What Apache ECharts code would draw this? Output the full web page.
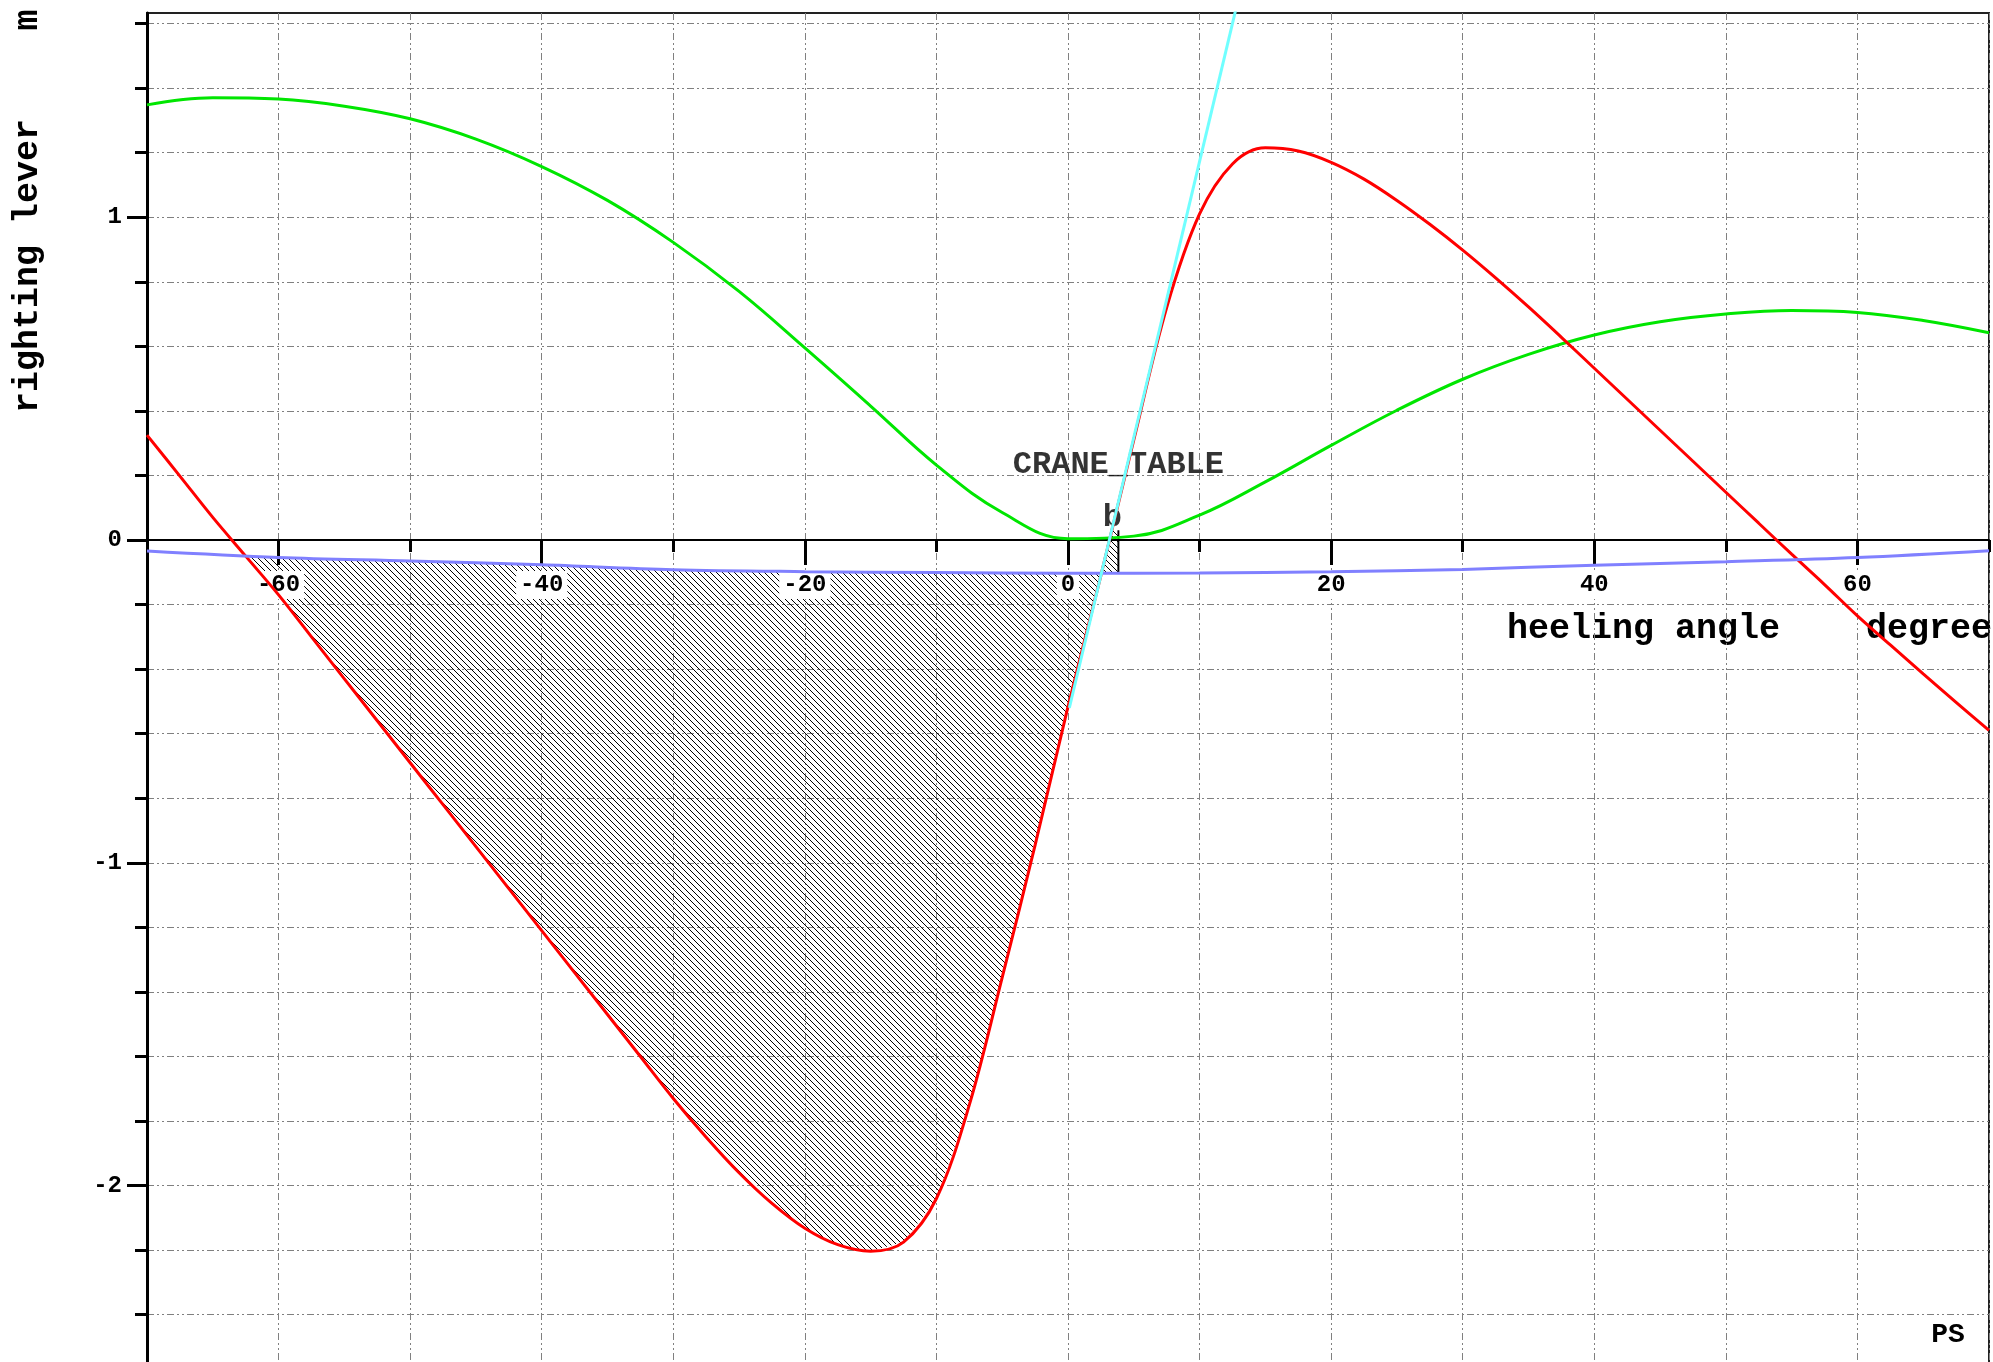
<!DOCTYPE html>
<html>
<head>
<meta charset="utf-8">
<title>righting lever</title>
<script src="https://cdn.jsdelivr.net/npm/echarts@6/dist/echarts.min.js"></script>
<style>
  html, body { margin: 0; padding: 0; background: #fff; }
  #chart { width: 1993px; height: 1362px; }
</style>
</head>
<body>
<div id="chart"></div>
<script>
// heeling angle in degree, righting lever in m
var greenAngles = [-70, -65, -60, -55, -50, -45, -40, -35, -30, -25, -20, -15, -10, -5, 0, 5, 10, 15, 20, 25, 30, 35, 40, 45, 50, 55, 60, 65, 70];
var greenValues = [1.348, 1.37, 1.366, 1.344, 1.305, 1.242, 1.157, 1.052, 0.922, 0.77, 0.595, 0.415, 0.232, 0.085, 0.004, 0.012, 0.077, 0.18, 0.293, 0.402, 0.498, 0.575, 0.635, 0.676, 0.70, 0.711, 0.705, 0.68, 0.642];

var redAngles = [-70, -67.5, -65, -62.5, -60, -57.5, -55, -52.5, -50, -47.5, -45, -42.5, -40, -37.5, -35, -32.5, -30, -27.5, -25, -22.5, -20, -17.5, -15, -12.5, -10, -7.5, -5, -2.5, 0, 2.5, 5, 7.5, 10, 12.5, 15, 17.5, 20, 22.5, 25, 27.5, 30, 32.5, 35, 37.5, 40, 42.5, 45, 47.5, 50, 52.5, 55, 57.5, 60, 62.5, 65, 67.5, 70];
var redValues = [0.325, 0.198, 0.07, -0.05, -0.17, -0.30, -0.43, -0.56, -0.69, -0.82, -0.95, -1.08, -1.21, -1.34, -1.47, -1.60, -1.73, -1.85, -1.96, -2.055, -2.132, -2.183, -2.203, -2.175, -2.04, -1.75, -1.355, -0.945, -0.516, -0.11, 0.31, 0.72, 1.01, 1.165, 1.215, 1.205, 1.17, 1.118, 1.052, 0.978, 0.898, 0.812, 0.722, 0.628, 0.532, 0.436, 0.34, 0.244, 0.148, 0.052, -0.044, -0.138, -0.235, -0.325, -0.415, -0.503, -0.59];

var blueAngles = [-70, -60, -50, -40, -30, -20, -10, 0, 10, 20, 30, 40, 50, 60, 70];
var blueValues = [-0.034, -0.054, -0.065, -0.077, -0.092, -0.098, -0.101, -0.103, -0.102, -0.098, -0.091, -0.078, -0.067, -0.054, -0.033];

var cyanAngles = [0.1, 13.5];
var cyanValues = [-0.52, 1.771];

// "b" mark of the crane table case
var bAngle = 3.83;
var bTop = 0.03;

var annotationAngles = [3.83, 3.38];
var annotationValues = [0.232, 0.068];
var annotationTexts = ['CRANE_TABLE', 'b'];

var xLabels = [-60, -40, -20, 0, 20, 40, 60];
var xMajorTicks = [-60, -40, -20, 0, 20, 40, 60];
var yLabels = [-2, -1, 0, 1];
var yMinorTicks = [-2.4, -2.2, -2, -1.8, -1.6, -1.4, -1.2, -1, -0.8, -0.6, -0.4, -0.2, 0, 0.2, 0.4, 0.6, 0.8, 1, 1.2, 1.4, 1.6];

var FONT = '"Liberation Mono", "Courier New", monospace';

function pairs(xs, ys) {
  return xs.map(function (x, i) { return [x, ys[i]]; });
}

function valueAt(xs, ys, x) {
  for (var i = 1; i < xs.length; i++) {
    if (x <= xs[i]) {
      var t = (x - xs[i - 1]) / (xs[i] - xs[i - 1]);
      return ys[i - 1] + t * (ys[i] - ys[i - 1]);
    }
  }
  return ys[ys.length - 1];
}

// where curve a meets curve b between lo and hi
function crossing(xa, ya, xb, yb, lo, hi) {
  var fLo = valueAt(xa, ya, lo) - valueAt(xb, yb, lo);
  for (var k = 0; k < 50; k++) {
    var mid = (lo + hi) / 2;
    var f = valueAt(xa, ya, mid) - valueAt(xb, yb, mid);
    if ((f > 0) === (fLo > 0)) { lo = mid; fLo = f; } else { hi = mid; }
  }
  return (lo + hi) / 2;
}

// hatch pattern, crisp 1px diagonal
var TILE = 6;
var tile = document.createElement('canvas');
tile.width = TILE;
tile.height = TILE;
var tctx = tile.getContext('2d');
tctx.fillStyle = '#000';
for (var k = 0; k < TILE; k++) {
  tctx.fillRect(k, k, 1, 1);
}
var hatch = { image: tile, repeat: 'repeat' };

function renderHatch(params, api) {
  var xL = crossing(redAngles, redValues, blueAngles, blueValues, -69, -55);
  var xC = crossing(cyanAngles, cyanValues, blueAngles, blueValues, 0.1, 10);
  var xT = crossing(cyanAngles, cyanValues, [-70, 70], [bTop, bTop], 0.1, 10);

  var main = [];
  main.push(api.coord([xL, valueAt(blueAngles, blueValues, xL)]));
  blueAngles.forEach(function (a, i) {
    if (a > xL && a < xC) main.push(api.coord([a, blueValues[i]]));
  });
  main.push(api.coord([xC, valueAt(blueAngles, blueValues, xC)]));
  main.push(api.coord([cyanAngles[0], cyanValues[0]]));
  for (var i = redAngles.length - 1; i >= 0; i--) {
    if (redAngles[i] <= 0 && redAngles[i] > xL) main.push(api.coord([redAngles[i], redValues[i]]));
  }

  var bBottom = valueAt(blueAngles, blueValues, bAngle);
  var patch = [
    api.coord([xC, valueAt(blueAngles, blueValues, xC)]),
    api.coord([xT, bTop]),
    api.coord([bAngle, bTop]),
    api.coord([bAngle, bBottom])
  ];
  var p1 = api.coord([bAngle, bTop]);
  var p2 = api.coord([bAngle, bBottom]);

  return {
    type: 'group',
    children: [
      { type: 'polygon', shape: { points: main, smooth: 0 }, style: { fill: hatch, stroke: null } },
      { type: 'polygon', shape: { points: patch }, style: { fill: hatch, stroke: null } },
      { type: 'line', shape: { x1: p1[0], y1: p1[1], x2: p2[0], y2: p2[1] }, style: { stroke: '#000', lineWidth: 2 } }
    ]
  };
}

var gridLine = { color: '#808080', width: 1, type: [7, 3, 2, 3, 2, 3] };
var tickStyle = { color: '#000', width: 3 };

var Y_MIN = -3;
var Y_MAX = 1.6326;
var PLOT_TOP = 13;
var PLOT_H = 1495.4;
var ZERO_H = PLOT_H * Y_MAX / (Y_MAX - Y_MIN);

var chart = echarts.init(document.getElementById('chart'));
chart.setOption({
  animation: false,
  backgroundColor: '#fff',
  grid: [
    {
      left: 147, top: PLOT_TOP, width: 1842, height: PLOT_H,
      outerBoundsMode: 'none', containLabel: false,
      show: true, borderColor: '#222', borderWidth: 2, backgroundColor: 'transparent'
    },
    {
      // upper half only, its bottom edge sits on y = 0
      left: 147, top: PLOT_TOP, width: 1842, height: ZERO_H,
      outerBoundsMode: 'none', containLabel: false, show: false
    }
  ],
  xAxis: [
    {
      type: 'value', gridIndex: 0, min: -70, max: 70, interval: 10, position: 'bottom',
      axisLine: { onZero: true, onZeroAxisIndex: 0, lineStyle: { color: '#000', width: 2 } },
      axisTick: { length: 12, lineStyle: tickStyle },
      axisLabel: { show: false },
      splitLine: { show: true, lineStyle: gridLine }
    },
    {
      type: 'value', gridIndex: 1, min: -70, max: 70, interval: 10, position: 'bottom', z: 3,
      axisLine: { show: false, onZero: false },
      axisTick: { customValues: xMajorTicks, length: 25, lineStyle: tickStyle },
      axisLabel: {
        customValues: xLabels, margin: 31,
        fontFamily: FONT, fontWeight: 'bold', fontSize: 24, color: '#000',
        backgroundColor: '#fff', padding: [2, 4]
      },
      splitLine: { show: false }
    }
  ],
  yAxis: [
    {
      type: 'value', gridIndex: 0, min: Y_MIN, max: Y_MAX, interval: 0.5, position: 'left',
      axisLine: { show: true, onZero: false, lineStyle: { color: '#000', width: 3 } },
      axisTick: { customValues: yMinorTicks, length: 12, lineStyle: tickStyle },
      axisLabel: {
        customValues: yLabels, margin: 25,
        fontFamily: FONT, fontWeight: 'bold', fontSize: 24, color: '#000'
      },
      splitLine: { show: true, lineStyle: gridLine }
    },
    {
      type: 'value', gridIndex: 0, min: Y_MIN, max: Y_MAX, interval: 0.5, position: 'left',
      axisLine: { show: false, onZero: false },
      axisTick: { customValues: yLabels, length: 20, lineStyle: tickStyle },
      axisLabel: { show: false },
      splitLine: { show: false }
    },
    {
      type: 'value', gridIndex: 1, min: 0, max: Y_MAX, show: false
    }
  ],
  graphic: [
    {
      type: 'text', x: 28, y: 266, rotation: Math.PI / 2,
      style: { text: 'righting lever', font: 'bold 35px ' + FONT, fill: '#000', align: 'center', verticalAlign: 'middle' }
    },
    {
      type: 'text', x: 28, y: 20, rotation: Math.PI / 2,
      style: { text: 'm', font: 'bold 35px ' + FONT, fill: '#000', align: 'center', verticalAlign: 'middle' }
    },
    {
      type: 'text', x: 1507, y: 629,
      style: { text: 'heeling angle', font: 'bold 35px ' + FONT, fill: '#000', align: 'left', verticalAlign: 'middle' }
    },
    {
      type: 'text', x: 1866, y: 629,
      style: { text: 'degree', font: 'bold 35px ' + FONT, fill: '#000', align: 'left', verticalAlign: 'middle' }
    },
    {
      type: 'text', x: 1948, y: 1335,
      style: { text: 'PS', font: 'bold 28px ' + FONT, fill: '#000', align: 'center', verticalAlign: 'middle' }
    }
  ],
  series: [
    {
      name: 'hatch', type: 'custom', xAxisIndex: 0, yAxisIndex: 0, z: 1,
      silent: true, renderItem: renderHatch, data: [[0, 0]]
    },
    {
      name: 'annotations', type: 'scatter', xAxisIndex: 0, yAxisIndex: 0, z: 2,
      symbolSize: 1, itemStyle: { color: 'rgba(0,0,0,0)' }, silent: true,
      data: annotationAngles.map(function (a, i) { return { value: [a, annotationValues[i]], name: annotationTexts[i] }; }),
      label: {
        show: true, position: 'inside', formatter: '{b}',
        fontFamily: FONT, fontWeight: 'bold', fontSize: 32, color: '#000'
      }
    },
    {
      name: 'green', type: 'line', xAxisIndex: 0, yAxisIndex: 0, z: 4,
      data: pairs(greenAngles, greenValues), showSymbol: false, smooth: 0.4,
      lineStyle: { color: '#00e600', width: 3 }, itemStyle: { color: '#00e600' }
    },
    {
      name: 'red', type: 'line', xAxisIndex: 0, yAxisIndex: 0, z: 4,
      data: pairs(redAngles, redValues), showSymbol: false, smooth: 0.35,
      lineStyle: { color: '#ff0000', width: 3 }, itemStyle: { color: '#ff0000' }
    },
    {
      name: 'blue', type: 'line', xAxisIndex: 0, yAxisIndex: 0, z: 4,
      data: pairs(blueAngles, blueValues), showSymbol: false, smooth: 0.35,
      lineStyle: { color: '#8080ff', width: 3 }, itemStyle: { color: '#8080ff' }
    },
    {
      name: 'cyan', type: 'line', xAxisIndex: 0, yAxisIndex: 0, z: 5,
      data: pairs(cyanAngles, cyanValues), showSymbol: false, clip: true,
      lineStyle: { color: '#70ffff', width: 3 }, itemStyle: { color: '#70ffff' }
    }
  ]
});
</script>
</body>
</html>
